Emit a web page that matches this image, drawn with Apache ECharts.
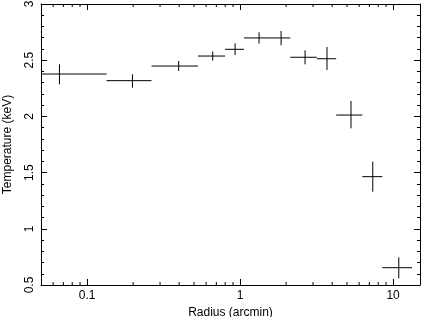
<!DOCTYPE html>
<html><head><meta charset="utf-8">
<script src="https://cdn.jsdelivr.net/npm/echarts@6/dist/echarts.min.js"></script>
<style>html,body{margin:0;padding:0;background:#fff}#c{width:421px;height:317px}</style>
</head><body><div id="c"></div>
<script>
// Data: radius bins (arcmin) and temperatures (keV)
const rCenter = [0.066, 0.198, 0.397, 0.663, 0.928, 1.331, 1.854, 2.66, 3.70, 5.31, 7.37, 10.9];
const rLow    = [0.001, 0.134, 0.264, 0.531, 0.798, 1.062, 1.577, 2.13, 3.17, 4.25, 6.30, 8.51];
const rHigh   = [0.134, 0.264, 0.531, 0.798, 1.062, 1.577, 2.13, 3.17, 4.25, 6.30, 8.51, 13.3];
const temp    = [2.377, 2.318, 2.448, 2.537, 2.597, 2.698, 2.698, 2.526, 2.513, 2.012, 1.464, 0.654];
const tLow    = [2.285, 2.255, 2.404, 2.497, 2.546, 2.647, 2.632, 2.463, 2.413, 1.894, 1.330, 0.560];
const tHigh   = [2.463, 2.375, 2.493, 2.577, 2.650, 2.748, 2.760, 2.588, 2.617, 2.137, 1.597, 0.746];
const xMinorTicks = [0.06,0.07,0.08,0.09,0.2,0.3,0.4,0.5,0.6,0.7,0.8,0.9,2,3,4,5,6,7,8,9];

const FONT = 'Liberation Sans';
const chart = echarts.init(document.getElementById('c'));
const axisLine = {show:true, lineStyle:{color:'#000', width:1}};
const xBase = {
  type:'log', logBase:10, min:0.05, max:15,
  axisLine: axisLine,
  axisTick:{show:true, inside:true, length:6, lineStyle:{color:'#000'}},
  splitLine:{show:false}, minorTick:{show:false}
};
const yBase = {
  type:'value', min:0.5, max:3, interval:0.5,
  axisLine: axisLine,
  axisTick:{show:true, inside:true, length:6, lineStyle:{color:'#000'}},
  minorTick:{show:true, splitNumber:5, length:3, lineStyle:{color:'#000'}},
  splitLine:{show:false}, minorSplitLine:{show:false}
};
const data = rCenter.map((r,i)=>[r, temp[i], rLow[i], rHigh[i], tLow[i], tHigh[i]]);
const lineStyle = {stroke:'#000', lineWidth:1};

chart.setOption({
  animation:false,
  grid:{left:41, top:4, right:1, bottom:32, containLabel:false, outerBoundsMode:'none'},
  xAxis:[
    Object.assign({}, xBase, {position:'bottom', name:'Radius (arcmin)', nameLocation:'middle', nameGap:17,
      nameTextStyle:{fontFamily:FONT, fontSize:12, color:'#000'},
      axisLabel:{show:true, showMinLabel:false, showMaxLabel:false, margin:5, fontFamily:FONT, fontSize:12, color:'#000',
        formatter:v=>String(v)}}),
    Object.assign({}, xBase, {position:'top', axisLabel:{show:false}})
  ],
  yAxis:[
    Object.assign({}, yBase, {position:'left', name:'Temperature (keV)', nameLocation:'middle', nameGap:27, nameRotate:90,
      nameTextStyle:{fontFamily:FONT, fontSize:12, color:'#000'},
      axisLabel:{show:true, rotate:90, margin:5, fontFamily:FONT, fontSize:12, color:'#000', align:'center', verticalAlign:'bottom'}}),
    Object.assign({}, yBase, {position:'right', axisLabel:{show:false}})
  ],
  series:[
    {
      type:'custom', xAxisIndex:0, yAxisIndex:0, clip:true, data:data,
      renderItem:(params, api)=>{
        const x = api.value(0), y = api.value(1);
        const pL = api.coord([api.value(2), y]);
        const pR = api.coord([api.value(3), y]);
        const pB = api.coord([x, api.value(4)]);
        const pT = api.coord([x, api.value(5)]);
        return {type:'group', children:[
          {type:'line', shape:{x1:pL[0], y1:pL[1], x2:pR[0], y2:pR[1]}, style:lineStyle},
          {type:'line', shape:{x1:pB[0], y1:pB[1], x2:pT[0], y2:pT[1]}, style:lineStyle}
        ]};
      }
    },
    {
      type:'custom', xAxisIndex:0, yAxisIndex:0, silent:true,
      data: xMinorTicks.map(v=>[v]),
      renderItem:(params, api)=>{
        const b = api.coord([api.value(0), 0.5]);
        const t = api.coord([api.value(0), 3]);
        return {type:'group', children:[
          {type:'line', shape:{x1:b[0], y1:b[1], x2:b[0], y2:b[1]-3}, style:lineStyle},
          {type:'line', shape:{x1:t[0], y1:t[1], x2:t[0], y2:t[1]+3}, style:lineStyle}
        ]};
      }
    }
  ]
});
</script></body></html>
